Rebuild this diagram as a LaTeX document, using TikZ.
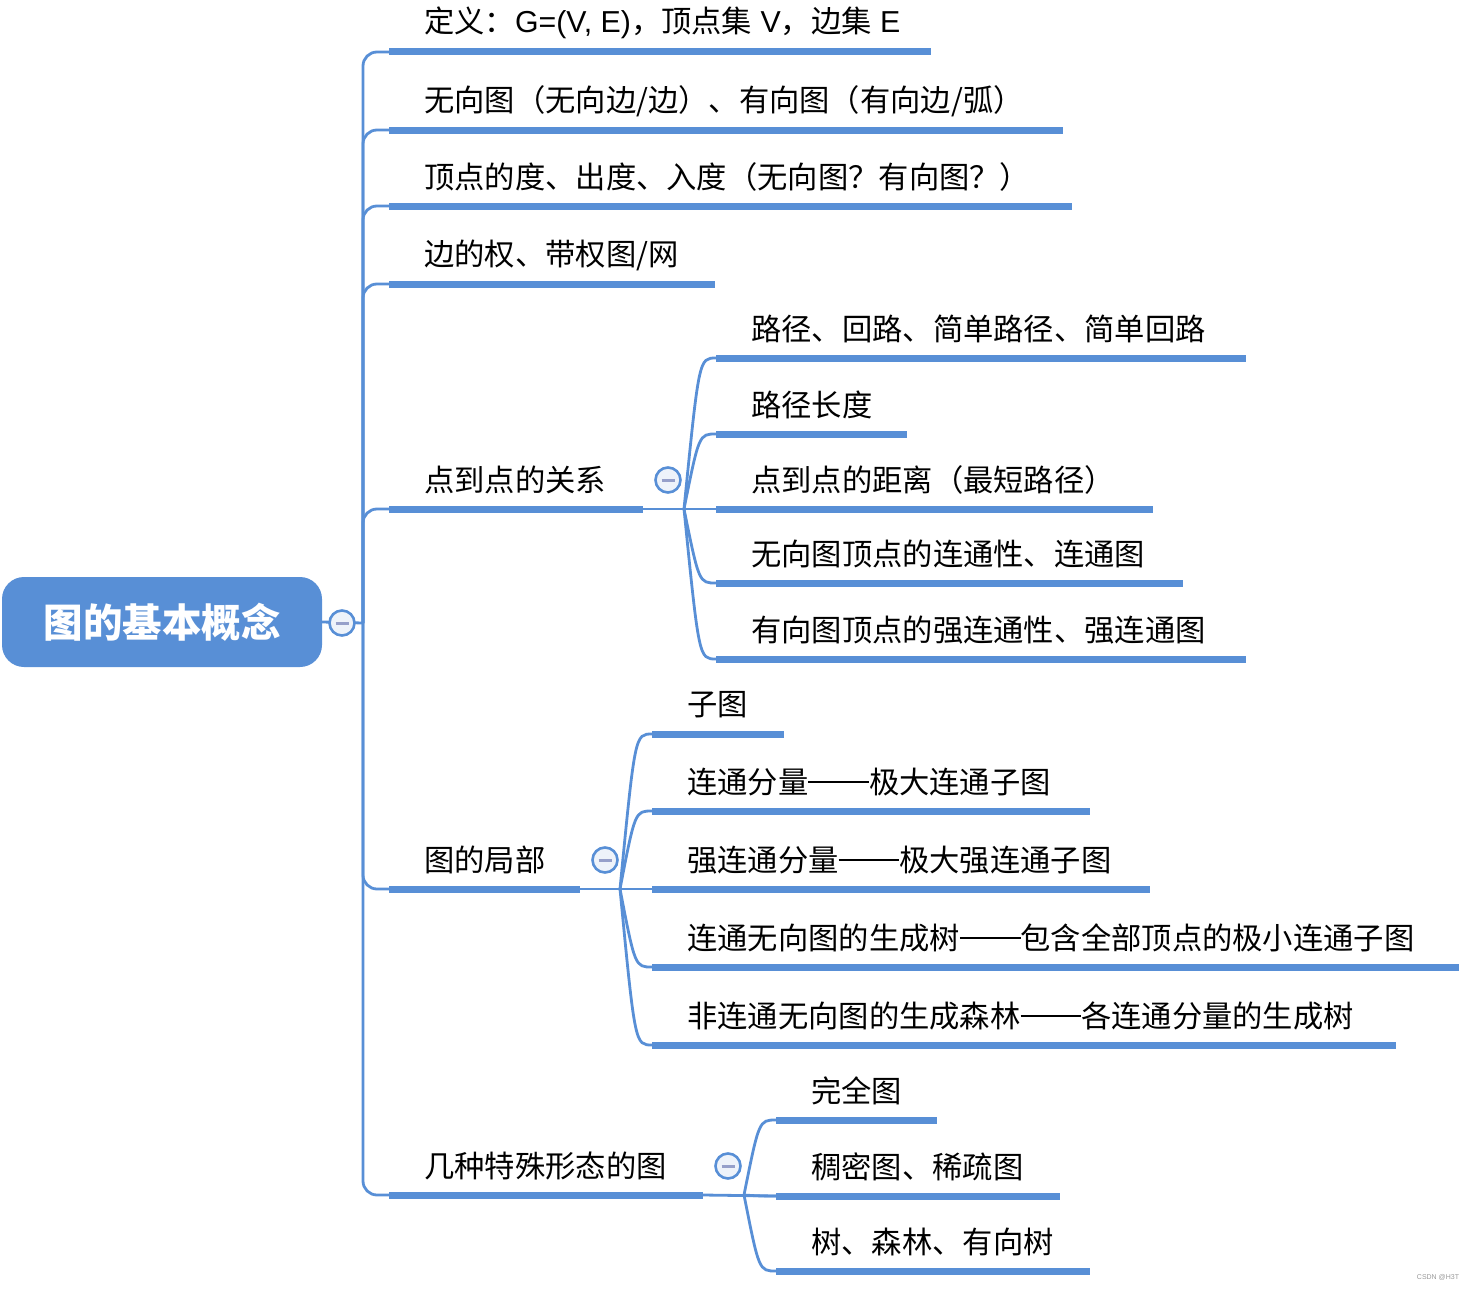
\documentclass[tikz,border=0pt]{standalone}
\usepackage{fontspec}
\setmainfont{Noto Sans CJK SC}
\setsansfont{Liberation Sans}
\newfontfamily\latin{Liberation Sans}
\usetikzlibrary{calc}
\definecolor{mapblue}{RGB}{88,143,214}
\definecolor{foldfill}{RGB}{238,243,250}
\definecolor{minusgray}{RGB}{150,160,202}

\def\ind{35}
\def\longdash{\rule[0.34em]{2em}{0.065em}}
\def\branch#1#2#3#4#5{
  \coordinate (#1-s) at (#2,#4);
  \coordinate (#1-e) at (#3,#4);
  \draw[uline] (#1-s) -- (#1-e);
  \node[topic] (#1) at (#2+\ind,#4-29) {#5};}
\def\fold#1#2#3{\node[foldbtn] (#1) at (#2,#3) {};}
\def\fan#1#2{\draw[link] (#1) .. controls ($(#1 |- #2-s)!0.47!(#2-s)$) .. (#2-s);}

\begin{document}
\begin{tikzpicture}[x=1pt, y=-1pt,
    topic/.style={anchor=west, inner sep=0pt, font=\fontsize{30.3}{35}\selectfont},
    uline/.style={draw=mapblue, line width=7pt},
    link/.style={draw=mapblue, line width=2.8pt},
    root/.style={rectangle, rounded corners=22pt, fill=mapblue, text=white,
        minimum width=320pt, minimum height=90pt,
        font=\fontsize{39.5}{44}\selectfont\bfseries},
    foldbtn/.style={circle, draw=mapblue, line width=2.6pt, fill=foldfill,
        minimum size=25pt, inner sep=0pt,
        path picture={\draw[minusgray, line width=3pt]
            ([xshift=-6.5pt]path picture bounding box.center) --
            ([xshift=6.5pt]path picture bounding box.center);}},
    ]
    \useasboundingbox (0,0) rectangle (1478,1290);

    \node[root] (root) at (162,622) {图的基本概念};
    \coordinate (trunk) at (363,623);

    \branch{def}{389}{931}{52}{定义：{\latin G=(V, E)}，顶点集{\latin\ V}，边集{\latin\ E}}
    \branch{kind}{389}{1063}{130}{无向图（无向边/边）、有向图（有向边/弧）}
    \branch{deg}{389}{1072}{206}{顶点的度、出度、入度（无向图？有向图？）}
    \branch{wt}{389}{715}{284}{边的权、带权图/网}
    \branch{rel}{389}{643}{509}{点到点的关系}
    \branch{part}{389}{580}{889}{图的局部}
    \branch{spec}{389}{703}{1195}{几种特殊形态的图}

    % 点到点的关系
    \branch{path}{716}{1246}{358}{路径、回路、简单路径、简单回路}
    \branch{plen}{716}{907}{434}{路径长度}
    \branch{dist}{716}{1153}{509}{点到点的距离（最短路径）}
    \branch{conn}{716}{1183}{583}{无向图顶点的连通性、连通图}
    \branch{sconn}{716}{1246}{659}{有向图顶点的强连通性、强连通图}

    % 图的局部
    \branch{sub}{652}{784}{734}{子图}
    \branch{comp}{652}{1090}{811}{连通分量\longdash 极大连通子图}
    \branch{scomp}{652}{1150}{889}{强连通分量\longdash 极大强连通子图}
    \branch{tree}{652}{1459}{967}{连通无向图的生成树\longdash 包含全部顶点的极小连通子图}
    \branch{forest}{652}{1396}{1045}{非连通无向图的生成森林\longdash 各连通分量的生成树}

    % 几种特殊形态的图
    \branch{full}{776}{937}{1120}{完全图}
    \branch{dense}{776}{1060}{1196}{稠密图、稀疏图}
    \branch{trees}{776}{1090}{1271}{树、森林、有向树}

    \draw[link] (root.east) -- (trunk);
    \foreach \n in {def,kind,deg,wt,rel,part,spec}
        {\draw[link, rounded corners=14pt] (trunk) |- (\n-s);}

    \coordinate (rel-hub) at (684,509);
    \draw[link] (rel-e) -- (dist-s);
    \foreach \n in {path,plen,dist,conn,sconn}
        {\fan{rel-hub}{\n}}

    \coordinate (part-hub) at (620,889);
    \draw[link] (part-e) -- (scomp-s);
    \foreach \n in {sub,comp,scomp,tree,forest}
        {\fan{part-hub}{\n}}

    \coordinate (spec-hub) at (744,1195);
    \draw[link] (spec-e) -- (dense-s);
    \foreach \n in {full,dense,trees}
        {\fan{spec-hub}{\n}}

    \fold{root-fold}{342}{623}
    \fold{rel-fold}{668}{480}
    \fold{part-fold}{605}{860}
    \fold{spec-fold}{728}{1166}

    \node[font=\sffamily\fontsize{7}{8}\selectfont, text=gray!80] (mark) at (1438,1277) {CSDN @H3T};
\end{tikzpicture}
\end{document}
